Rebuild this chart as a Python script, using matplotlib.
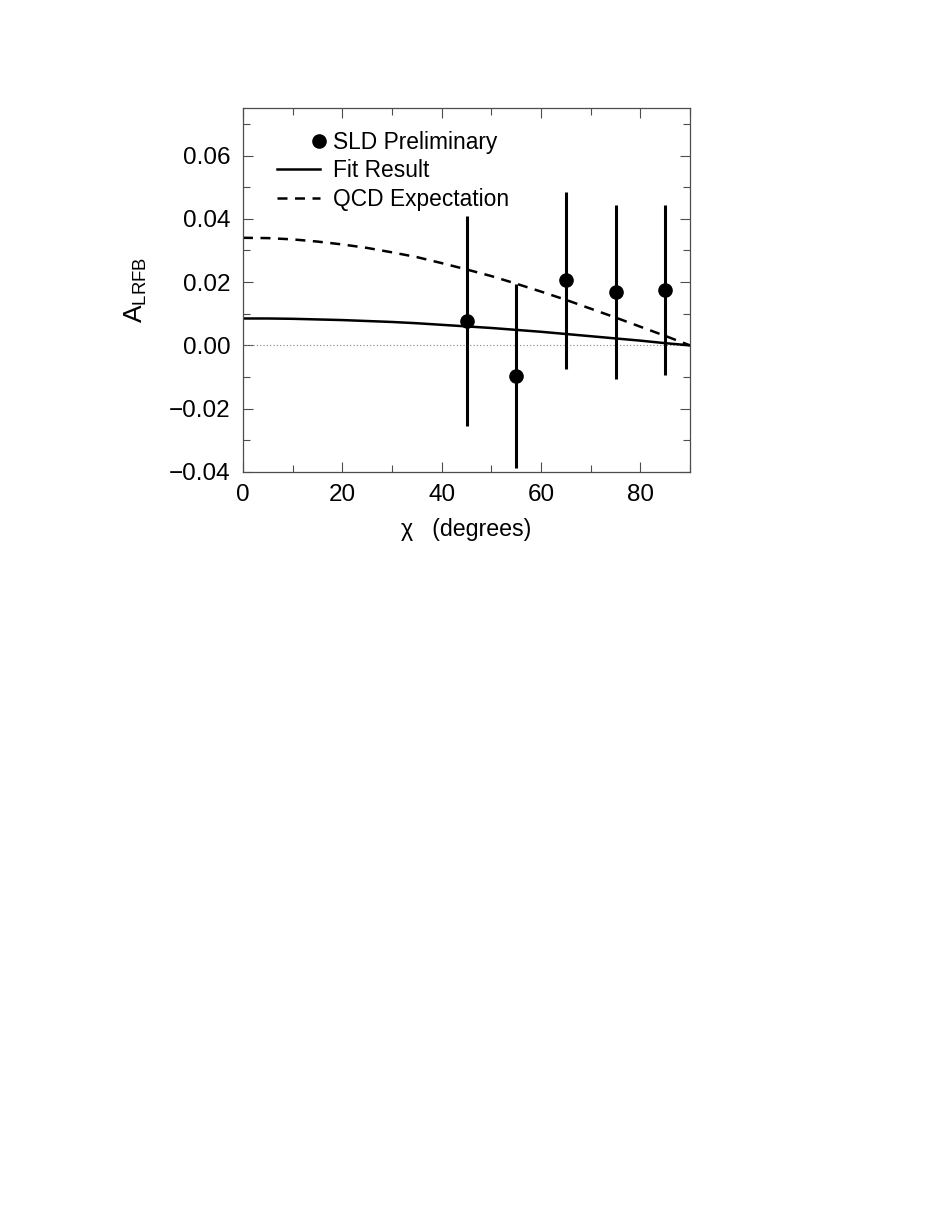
import numpy as np
import matplotlib
matplotlib.use("Agg")
import matplotlib.pyplot as plt
from matplotlib.lines import Line2D
from matplotlib.legend_handler import HandlerLine2D

plt.rcParams['font.family'] = ['Liberation Sans', 'DejaVu Sans']
plt.rcParams['mathtext.fontset'] = 'custom'
plt.rcParams['mathtext.rm'] = 'Liberation Sans'
plt.rcParams['mathtext.it'] = 'Liberation Sans'

# datos
chi_pts = [45, 55, 65, 75, 85]
a_pts = [0.0077, -0.0097, 0.0206, 0.0169, 0.0176]
a_err = [0.0333, 0.0292, 0.0280, 0.0274, 0.0268]

chi_curve = [0, 5, 10, 15, 20, 25, 30, 35, 40, 45, 50, 55, 60, 65, 70, 75, 80, 85, 90]
fit_curve = [0.0085, 0.0085, 0.0084, 0.0082, 0.0080, 0.0077, 0.0074, 0.0070, 0.0065,
             0.0060, 0.0055, 0.0049, 0.0043, 0.0036, 0.0029, 0.0022, 0.0015, 0.0007, 0.0000]
qcd_curve = [0.0340, 0.0339, 0.0335, 0.0328, 0.0319, 0.0308, 0.0294, 0.0279, 0.0260,
             0.0240, 0.0219, 0.0195, 0.0170, 0.0144, 0.0116, 0.0088, 0.0059, 0.0030, 0.0000]


class MarcadorDerecha(HandlerLine2D):
    # pone el marcador al final del handle, como en la figura original
    def create_artists(self, legend, orig_handle, xdescent, ydescent, width, height, fontsize, trans):
        arts = super().create_artists(legend, orig_handle, xdescent, ydescent, width, height, fontsize, trans)
        for a in arts:
            xd = np.asarray(a.get_xdata(), dtype=float)
            if len(xd) == 3:
                xd[1] = -xdescent + width * 0.97
                a.set_xdata(xd)
        return arts


fig = plt.figure(figsize=(9.41, 12.18), dpi=100)
ax = fig.add_axes([0.2582, 0.6125, 0.4751, 0.2988])

ax.axhline(0, color="0.5", lw=0.8, ls=(0, (1, 2)))
ax.plot(chi_curve, fit_curve, "k-", lw=1.8)
ax.plot(chi_curve, qcd_curve, "k--", lw=1.8, dashes=(4, 3))
ax.errorbar(chi_pts, a_pts, yerr=a_err, fmt="o", color="k", ms=9.5, elinewidth=2.2, capsize=0)

ax.set_xlim(0, 90)
ax.set_ylim(-0.04, 0.075)
ax.set_xticks([0, 20, 40, 60, 80])
ax.set_xticks(np.arange(0, 91, 10), minor=True)
ax.set_yticks([-0.04, -0.02, 0.00, 0.02, 0.04, 0.06])
ax.set_yticks(np.arange(-0.04, 0.0751, 0.01), minor=True)
ax.set_yticklabels(["\u22120.04", "\u22120.02", "0.00", "0.02", "0.04", "0.06"])
ax.tick_params(which="both", direction="in", top=True, right=True, labelsize=17.5, color="0.3", width=0.8)
ax.tick_params(which="major", length=7, pad=9)
ax.tick_params(which="minor", length=5)
for s in ax.spines.values():
    s.set_color("0.3")
    s.set_linewidth(0.9)

ax.set_xlabel("\u03c7   (degrees)", fontsize=16.7, labelpad=8)
ax.set_ylabel(r"A$_{\mathregular{LRFB}}$", fontsize=19, labelpad=14)

h_pts = Line2D([], [], marker="o", color="k", ls="none", ms=9.5)
h_fit = Line2D([], [], color="k", lw=1.8)
h_qcd = Line2D([], [], color="k", lw=1.8, ls="--", dashes=(4, 3))
ax.legend([h_pts, h_fit, h_qcd], ["SLD Preliminary", "Fit Result", "QCD Expectation"],
          loc="upper left", frameon=False, fontsize=16.4, numpoints=1, handlelength=1.9,
          handletextpad=0.55, labelspacing=0.25, borderpad=0, borderaxespad=0,
          bbox_to_anchor=(0.076, 0.938), handler_map={h_pts: MarcadorDerecha()})

plt.savefig("out.png", dpi=100)
